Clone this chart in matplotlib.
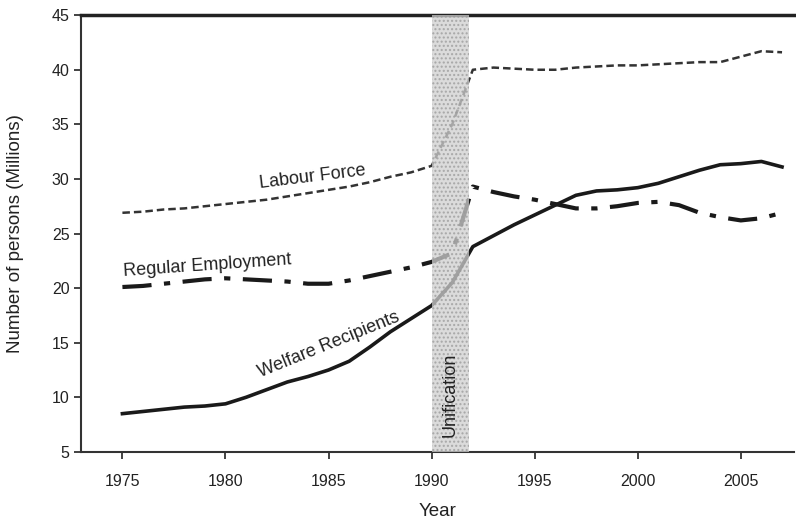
import matplotlib
matplotlib.use("Agg")
import matplotlib.pyplot as plt

plt.rcParams['font.family'] = ['Liberation Sans', 'DejaVu Sans']

# Data
years = list(range(1975, 2008))
labour_force = [26.9, 27.0, 27.2, 27.3, 27.5, 27.7, 27.9, 28.1, 28.4, 28.7,
                29.0, 29.3, 29.7, 30.2, 30.6, 31.2, 35.0, 40.0, 40.2, 40.1,
                40.0, 40.0, 40.2, 40.3, 40.4, 40.4, 40.5, 40.6, 40.7, 40.7,
                41.2, 41.7, 41.6]
regular_employment = [20.1, 20.2, 20.4, 20.6, 20.8, 20.9, 20.8, 20.7, 20.6, 20.4,
                      20.4, 20.7, 21.1, 21.5, 21.9, 22.4, 23.2, 29.3, 28.8, 28.4,
                      28.1, 27.7, 27.3, 27.3, 27.5, 27.8, 27.9, 27.6, 26.9, 26.5,
                      26.2, 26.4, 26.9]
welfare = [8.5, 8.7, 8.9, 9.1, 9.2, 9.4, 10.0, 10.7, 11.4, 11.9,
           12.5, 13.3, 14.6, 16.0, 17.2, 18.4, 20.5, 23.8, 24.8, 25.8,
           26.7, 27.6, 28.5, 28.9, 29.0, 29.2, 29.6, 30.2, 30.8, 31.3,
           31.4, 31.6, 31.1]
unification = (1990, 1991.8)

fig = plt.figure(figsize=(7.96, 5.23), dpi=100)
ax = fig.add_axes([0.102, 0.136, 0.896, 0.835])

ax.plot(years, labour_force, color='#333333', lw=1.8, dashes=(3, 1.6), zorder=2)
ax.plot(years, regular_employment, color='#1a1a1a', lw=3.0, dashes=(7, 3, 1.5, 3), zorder=2)
ax.plot(years, welfare, color='#1a1a1a', lw=2.6, zorder=2)

# stippled band drawn over the lines, partly see-through
ax.axvspan(unification[0], unification[1], facecolor='#cfcfcf', edgecolor='#9a9a9a',
           hatch='....', linewidth=0, alpha=0.75, zorder=3)

ax.text(1984.2, 30.2, 'Labour Force', fontsize=13, rotation=7, ha='center', va='center', color='#222222')
ax.text(1979.1, 22.1, 'Regular Employment', fontsize=13, rotation=4, ha='center', va='center', color='#222222')
ax.text(1985.0, 14.8, 'Welfare Recipients', fontsize=13, rotation=22, ha='center', va='center', color='#222222')
ax.text(1990.9, 10.2, 'Unification', fontsize=13, rotation=90, ha='center', va='center', color='#222222', zorder=4)

ax.set_xlim(1973, 2007.6)
ax.set_ylim(5, 45)
ax.set_xticks([1975, 1980, 1985, 1990, 1995, 2000, 2005])
ax.set_yticks(range(5, 50, 5))
ax.tick_params(direction='out', length=5, width=1.2, labelsize=11.5, colors='#222222')
ax.tick_params(axis='x', pad=11)
ax.set_xlabel('Year', fontsize=13.5, color='#222222', labelpad=10)
ax.set_ylabel('Number of persons (Millions)', fontsize=13.5, color='#222222', labelpad=20)

ax.spines['right'].set_visible(False)
for s in ['left', 'bottom']:
    ax.spines[s].set_linewidth(1.5)
    ax.spines[s].set_color('#333333')
ax.spines['top'].set_linewidth(2.5)
ax.spines['top'].set_color('#222222')

fig.savefig('out.png', dpi=100)
